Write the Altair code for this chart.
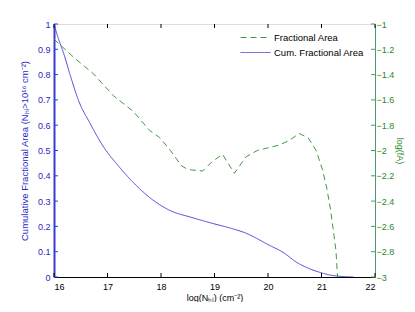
import altair as alt
import pandas as pd

# ---------------- data ----------------
x_ticks = [16, 17, 18, 19, 20, 21, 22]
left_ticks = [0.0, 0.1, 0.2, 0.3, 0.4, 0.5, 0.6, 0.7, 0.8, 0.9, 1.0]
right_ticks = [-3.0, -2.8, -2.6, -2.4, -2.2, -2.0, -1.8, -1.6, -1.4, -1.2, -1.0]

# cumulative fractional area (left axis)
cum_logn = [16.0, 16.07, 16.185, 16.3, 16.46, 16.68, 16.93, 17.2, 17.48, 17.85,
            18.22, 18.53, 18.96, 19.3, 19.59, 20.02, 20.3, 20.52, 20.75, 20.99,
            21.15, 21.33, 21.6]
cum_vals = [1.0, 0.95, 0.881, 0.80, 0.697, 0.605, 0.513, 0.44, 0.374, 0.304,
            0.258, 0.238, 0.212, 0.193, 0.173, 0.126, 0.095, 0.06, 0.035, 0.017,
            0.008, 0.003, 0.0]

# log fractional area (right axis)
fa_logn = [16.0, 16.37, 16.74, 17.11, 17.48, 17.79, 17.97, 18.16, 18.38, 18.5,
           18.6, 18.78, 18.95, 19.15, 19.37, 19.59, 19.8, 20.21, 20.4, 20.58,
           20.75, 20.9, 21.02, 21.1, 21.17, 21.27, 21.3]
fa_vals = [-1.12, -1.264, -1.395, -1.567, -1.69, -1.843, -1.896, -1.99, -2.12, -2.15,
           -2.155, -2.162, -2.09, -2.03, -2.18, -2.05, -2.0, -1.957, -1.92, -1.865,
           -1.9, -2.0, -2.154, -2.3, -2.47, -2.79, -3.0]

series_names = ["Fractional Area", "Cum. Fractional Area"]
series_colors = ["#3f9a3f", "#4848d8"]
series_dashes = [[6, 4], [1, 0]]

W, H = 321, 253
FONT = "Liberation Sans"
BLUE_TXT = "#2828c8"
GREEN_TXT = "#2a8a2a"

cum_df = pd.DataFrame({"logn": cum_logn, "v": cum_vals, "series": series_names[1]})
fa_df = pd.DataFrame({"logn": fa_logn, "v": fa_vals, "series": series_names[0]})
xt_df = pd.DataFrame({"logn": x_ticks})
lt_df = pd.DataFrame({"v": left_ticks})
rt_df = pd.DataFrame({"v": right_ticks})

x_scale = alt.Scale(domain=[16, 22], nice=False, zero=False)
yl_scale = alt.Scale(domain=[0, 1], nice=False, zero=False)
yr_scale = alt.Scale(domain=[-3, -1], nice=False, zero=False)

legend_cfg = alt.Legend(
    title=None, orient="none", legendX=186, legendY=6,
    symbolType="stroke", symbolSize=900, symbolStrokeWidth=1,
    labelFont=FONT, labelFontSize=9.5, labelColor="black",
    labelOffset=3, rowPadding=0, clipHeight=15, padding=0,
)
color_enc = alt.Color(
    "series:N",
    scale=alt.Scale(domain=series_names, range=series_colors),
    legend=legend_cfg,
)
dash_enc = alt.StrokeDash(
    "series:N",
    scale=alt.Scale(domain=series_names, range=series_dashes),
    legend=legend_cfg,
)

x_axis = alt.Axis(
    values=x_ticks, format="d", tickSize=0, labelPadding=5, grid=False,
    labelFont=FONT, labelFontSize=9, labelColor="black",
    domainColor="black", domainWidth=1,
    title="log(Nₕᵢ) (cm⁻²)", titleFont=FONT, titleFontSize=9,
    titleFontWeight="normal", titleColor="black", titlePadding=2,
)
yl_axis = alt.Axis(
    values=left_ticks, format="~g", tickSize=0, labelPadding=4, grid=False,
    labelFont=FONT, labelFontSize=9, labelColor=BLUE_TXT,
    domainColor="#3a3ad0", domainWidth=2,
    title="Cumulative Fractional Area (Nₕᵢ>10¹⁶ cm⁻²)", titleFont=FONT,
    titleFontSize=9.5, titleFontWeight="normal", titleColor=BLUE_TXT,
    titlePadding=8,
)
yr_axis = alt.Axis(
    orient="right", values=right_ticks, format="~g", tickSize=0,
    labelPadding=1, grid=False,
    labelFont=FONT, labelFontSize=9, labelColor=GREEN_TXT,
    domainColor="#4a9a6a", domainWidth=1,
    title="log(fA)", titleFont=FONT, titleFontSize=9,
    titleFontWeight="normal", titleColor=GREEN_TXT, titlePadding=1,
)

X = alt.X("logn:Q", scale=x_scale, axis=x_axis)
YL = alt.Y("v:Q", scale=yl_scale, axis=yl_axis)
YR = alt.Y("v:Q", scale=yr_scale, axis=yr_axis)

blue_line = alt.Chart(cum_df).mark_line(
    strokeWidth=1, clip=True, interpolate="monotone"
).encode(
    x=X, y=YL, color=color_enc, strokeDash=dash_enc,
)
top_ticks = alt.Chart(xt_df).mark_rule(color="black", strokeWidth=1).encode(
    x=X, y=alt.value(0), y2=alt.value(4),
)
bot_ticks = alt.Chart(xt_df).mark_rule(color="black", strokeWidth=1).encode(
    x=X, y=alt.value(H), y2=alt.value(H - 4),
)
left_tick_marks = alt.Chart(lt_df).mark_rule(color="#3a3ad0", strokeWidth=1).encode(
    y=YL, x=alt.value(0), x2=alt.value(4),
)

left = alt.layer(blue_line, left_tick_marks, top_ticks, bot_ticks)

green_line = alt.Chart(fa_df).mark_line(strokeWidth=1, clip=True).encode(
    x=X, y=YR, color=color_enc, strokeDash=dash_enc,
)
right_tick_marks = alt.Chart(rt_df).mark_rule(color="#4a9a6a", strokeWidth=1).encode(
    y=YR, x=alt.value(W), x2=alt.value(W - 4),
)

right = alt.layer(green_line, right_tick_marks)

chart = (
    alt.layer(left, right)
    .resolve_scale(y="independent")
    .properties(
        width=W, height=H,
        autosize=alt.AutoSizeParams(type="none"),
        padding={"left": 46, "top": 16, "right": 32, "bottom": 25},
    )
    .configure_view(stroke="black", strokeWidth=1)
    .configure(background="white")
)

chart.save("out.html", embed_options={"renderer": "svg", "actions": False})
